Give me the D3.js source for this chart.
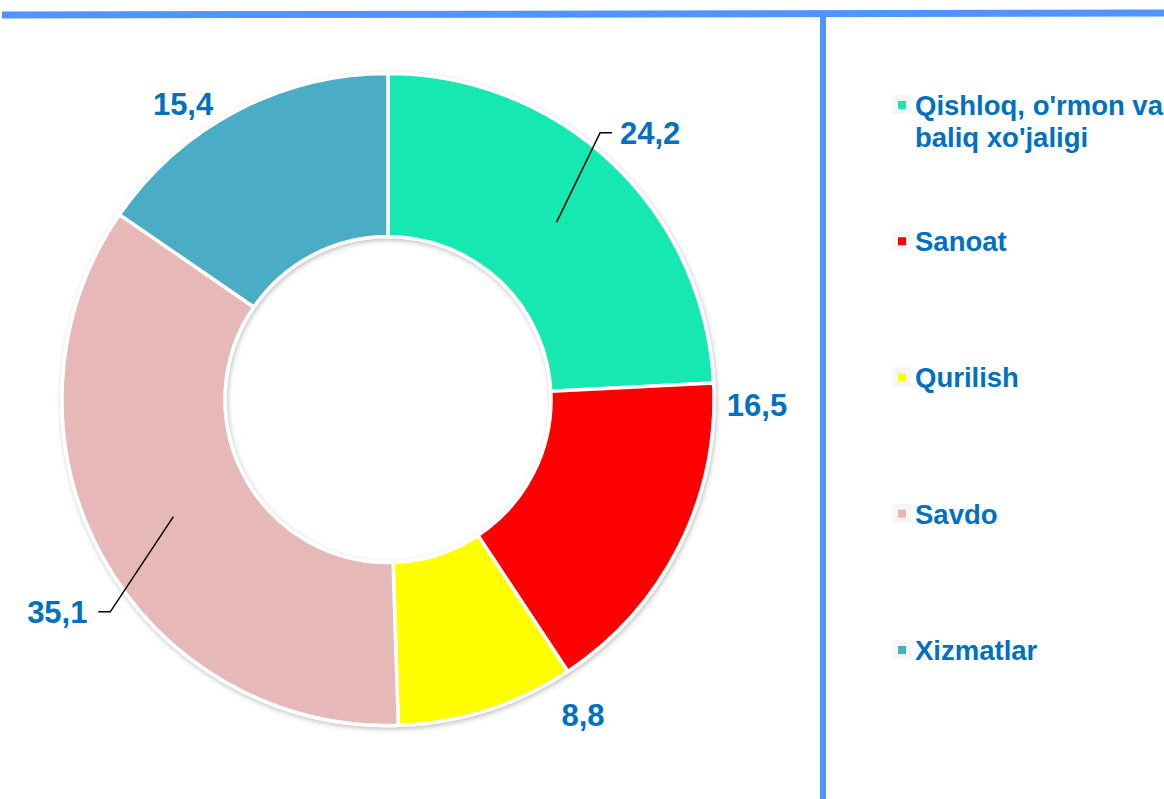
<!DOCTYPE html>
<html>
<head>
<meta charset="utf-8">
<script src="https://cdn.jsdelivr.net/npm/d3@7"></script>
<style>
  body { margin: 0; background: #fff; }
  svg { display: block; font-family: "Liberation Sans", Arial, sans-serif; }
</style>
</head>
<body>
<div id="chart"></div>
<script>
// --- data ---
const categories = ["Qishloq, o'rmon va baliq xo'jaligi", "Sanoat", "Qurilish", "Savdo", "Xizmatlar"];
const legendLines = [["Qishloq, o'rmon va", "baliq xo'jaligi"], ["Sanoat"], ["Qurilish"], ["Savdo"], ["Xizmatlar"]];
const values = [24.2, 16.5, 8.8, 35.1, 15.4];
const valueLabels = ["24,2", "16,5", "8,8", "35,1", "15,4"];
const colors = ["#16E8B1", "#FF0000", "#FFFF00", "#E6B9B8", "#4BACC6"];

// label placement (angle in degrees from top, clockwise; radius from centre)
const labelSpots = [
  { angle: 44.5, r: 374, leader: true },
  { angle: 90.9, r: 369, leader: false },
  { angle: 148.3, r: 371, leader: false },
  { angle: 237.3, r: 393, leader: true },
  { angle: 325.3, r: 360, leader: false }
];

const width = 1164, height = 799;
const cx = 388, cy = 399.5;
const outerR = 326, innerR = 163;
const textBlue = "#0070C0";
const frameBlue = "#4F94FF";

const svg = d3.select("#chart").append("svg")
  .attr("width", width)
  .attr("height", height);

const defs = svg.append("defs");
const shadow = defs.append("filter").attr("id", "shadow")
  .attr("x", "-10%").attr("y", "-10%").attr("width", "120%").attr("height", "120%");
shadow.append("feDropShadow")
  .attr("dx", 1).attr("dy", 2).attr("stdDeviation", 2.5)
  .attr("flood-color", "#000").attr("flood-opacity", 0.25);

// frame lines
svg.append("line")
  .attr("x1", 2).attr("y1", 15).attr("x2", width).attr("y2", 13)
  .attr("stroke", frameBlue).attr("stroke-width", 7);
svg.append("line")
  .attr("x1", 823).attr("y1", 17).attr("x2", 823).attr("y2", height)
  .attr("stroke", frameBlue).attr("stroke-width", 6);

// donut
const pie = d3.pie().sort(null).value(d => d);
const arcs = pie(values);
const arc = d3.arc().innerRadius(innerR).outerRadius(outerR);

const g = svg.append("g").attr("transform", `translate(${cx},${cy})`);

g.append("g").attr("filter", "url(#shadow)")
  .selectAll("path")
  .data(arcs)
  .enter()
  .append("path")
  .attr("d", arc)
  .attr("fill", (d, i) => colors[i])
  .attr("stroke", "#fff")
  .attr("stroke-width", 3.5)
  .attr("stroke-linejoin", "round");

const polar = (deg, r) => {
  const a = deg * Math.PI / 180;
  return [r * Math.sin(a), -r * Math.cos(a)];
};

// leader lines + labels
arcs.forEach((d, i) => {
  const spot = labelSpots[i];
  const [lx, ly] = polar(spot.angle, spot.r);
  const right = lx >= 0;
  if (spot.leader) {
    const start = arc.centroid(d);
    const bx = right ? lx - 50 : lx + 53;
    const by = ly;
    const ex = right ? bx + 12 : bx - 12;
    g.append("polyline")
      .attr("points", [start, [bx, by], [ex, by]].map(p => p.join(",")).join(" "))
      .attr("fill", "none")
      .attr("stroke", "#000")
      .attr("stroke-width", 1.5);
  }
  g.append("text")
    .attr("x", lx)
    .attr("y", ly)
    .attr("dy", "0.36em")
    .attr("text-anchor", "middle")
    .attr("font-size", 31)
    .attr("font-weight", "bold")
    .attr("fill", textBlue)
    .text(valueLabels[i]);
});

// legend
const legendY = d3.scalePoint()
  .domain(categories)
  .range([105, 650]);

const legend = svg.append("g").selectAll("g")
  .data(categories)
  .enter()
  .append("g")
  .attr("transform", d => `translate(898,${legendY(d)})`);

legend.append("rect")
  .attr("x", -6).attr("y", -10).attr("width", 19).attr("height", 19)
  .attr("fill", "#f6f6f6");
legend.append("rect")
  .attr("x", 0).attr("y", -4).attr("width", 8).attr("height", 8)
  .attr("fill", (d, i) => colors[i]);

legend.append("text")
  .attr("x", 17)
  .attr("y", 0)
  .attr("font-size", 27.5)
  .attr("font-weight", "bold")
  .attr("fill", textBlue)
  .selectAll("tspan")
  .data((d, i) => legendLines[i])
  .enter()
  .append("tspan")
  .attr("x", 17)
  .attr("dy", (t, j) => j === 0 ? "0.36em" : "1.17em")
  .text(t => t);
</script>
</body>
</html>
